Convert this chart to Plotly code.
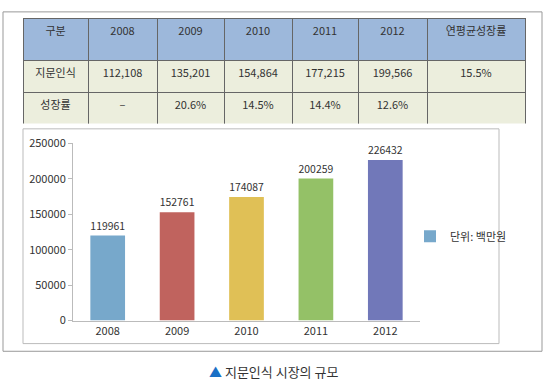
import plotly.graph_objects as go

W, H = 546, 388

# ---- data ----
header_labels = ["구분", "2008", "2009", "2010", "2011", "2012", "연평균성장률"]
row_labels = ["지문인식", "성장률"]
market_table = ["112,108", "135,201", "154,864", "177,215", "199,566"]
growth_rates = ["–", "20.6%", "14.5%", "14.4%", "12.6%"]
cagr = ["15.5%", ""]

years = ["2008", "2009", "2010", "2011", "2012"]
bar_values = [119961, 152761, 174087, 200259, 226432]
bar_colors = ["#77A8CB", "#C0635E", "#E0C056", "#94C167", "#7178B9"]
legend_name = "단위: 백만원"
caption = "지문인식 시장의 규모"

FONT = "Noto Sans CJK KR"

def px_x(v):
    return v / W

def px_y(v):
    return 1 - v / H

cols = [row_labels] + [[m, g] for m, g in zip(market_table, growth_rates)] + [cagr]

fig = go.Figure()

fig.add_trace(go.Table(
    domain=dict(x=[px_x(23), px_x(525)], y=[px_y(120), px_y(10)]),
    columnwidth=[65, 69, 67, 68, 66, 69, 98],
    header=dict(
        values=header_labels,
        fill_color="#9DB8DB",
        line=dict(color="#666666", width=1),
        align="center",
        height=42,
        font=dict(family=FONT, size=11, color="#333333"),
    ),
    cells=dict(
        values=cols,
        fill_color="#ECEEDD",
        line=dict(color="#666666", width=1),
        align="center",
        height=32,
        font=dict(family=FONT, size=11, color="#333333"),
    ),
))

fig.add_trace(go.Bar(
    x=years,
    y=bar_values,
    name=legend_name,
    marker=dict(color=bar_colors, line=dict(width=0)),
    width=0.5,
    text=[str(v) for v in bar_values],
    textposition="outside",
    textfont=dict(family=FONT, size=11, color="#333333"),
    cliponaxis=False,
    showlegend=True,
))

shapes = [
    dict(type="rect", xref="paper", yref="paper",
         x0=px_x(3), x1=px_x(542), y0=px_y(357), y1=px_y(3),
         line=dict(color="#999999", width=1), layer="below"),
    dict(type="rect", xref="paper", yref="paper",
         x0=px_x(23), x1=px_x(499), y0=px_y(349), y1=px_y(125),
         line=dict(color="#BBBBBB", width=1), layer="below"),
]

fig.update_layout(
    width=W, height=H,
    margin=dict(l=0, r=0, t=0, b=0),
    paper_bgcolor="white",
    plot_bgcolor="white",
    font=dict(family=FONT, size=11, color="#333333"),
    shapes=shapes,
    xaxis=dict(
        domain=[px_x(73), px_x(420)],
        showline=True, linecolor="#BBBBBB", linewidth=1,
        ticks="", showgrid=False,
        tickfont=dict(family=FONT, size=11, color="#333333"),
    ),
    yaxis=dict(
        domain=[px_y(325), px_y(140)],
        range=[0, 250000],
        dtick=50000,
        tickformat="d",
        showline=True, linecolor="#BBBBBB", linewidth=1,
        ticks="outside", ticklen=4, tickcolor="#BBBBBB",
        showgrid=False, zeroline=False,
        tickfont=dict(family=FONT, size=11, color="#333333"),
    ),
    legend=dict(
        x=px_x(410), y=px_y(237), xanchor="left", yanchor="middle",
        font=dict(family=FONT, size=11, color="#333333"),
        bgcolor="rgba(0,0,0,0)",
        itemwidth=30,
    ),
    annotations=[
        dict(
            text="<span style='color:#1A70C6'>▲</span> " + caption,
            xref="paper", yref="paper",
            x=0.5, y=px_y(378), xanchor="center", yanchor="middle",
            showarrow=False,
            font=dict(family=FONT, size=13, color="#333333"),
        )
    ],
)

fig.write_html(
    "out.html",
    config={"displayModeBar": False},
    post_script="document.body.style.margin='0px';document.body.style.padding='0px';",
)
